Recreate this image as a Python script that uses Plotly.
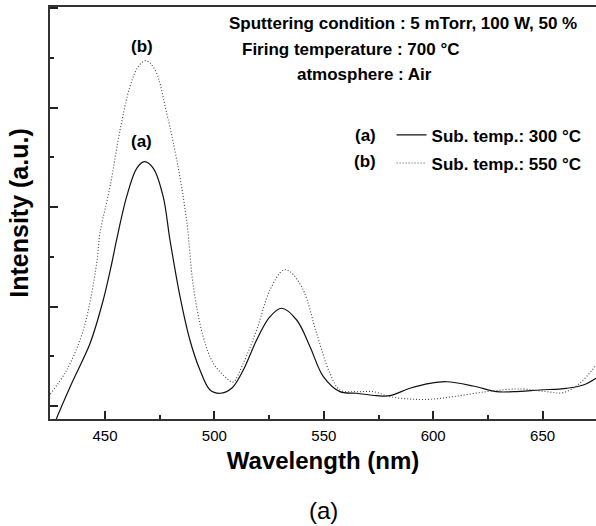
import plotly.graph_objects as go

# Wavelength (nm) and intensity (a.u.)
wl_a = [425.0, 427.9, 435.5, 443.2, 449.2, 453.1, 455.3, 459.9, 464.5, 468.0, 472.1, 476.6,
        479.7, 484.3, 488.8, 493.4, 498.0, 502.6, 507.9, 513.2, 519.3, 525.4, 530.7, 537.6,
        543.7, 549.8, 557.4, 565.0, 574.1, 580.2, 589.4, 598.5, 606.1, 618.3, 629.0, 636.6,
        648.8, 661.0, 668.6, 674.4]
int_a = [-0.30, -0.124, 0.262, 0.631, 1.066, 1.436, 1.670, 2.106, 2.391, 2.458, 2.391, 2.106,
         1.670, 1.100, 0.664, 0.362, 0.161, 0.128, 0.178, 0.362, 0.664, 0.898, 0.983, 0.865,
         0.597, 0.295, 0.144, 0.128, 0.104, 0.104, 0.178, 0.228, 0.244, 0.201, 0.144, 0.144,
         0.161, 0.178, 0.211, 0.279]

wl_b = [425.0, 432.5, 440.1, 446.2, 447.7, 452.3, 456.9, 461.4, 465.2, 468.7, 472.9, 478.2,
        482.8, 487.3, 490.4, 494.9, 499.5, 505.6, 508.5, 513.2, 519.3, 525.4, 531.5, 534.6,
        540.6, 546.7, 552.8, 557.4, 565.0, 572.6, 580.2, 589.4, 598.5, 609.2, 624.4, 639.6,
        651.8, 659.4, 667.0, 674.4]
int_b = [0.12, 0.362, 0.765, 1.436, 1.737, 2.206, 2.777, 3.212, 3.414, 3.474, 3.380, 2.945,
         2.475, 1.871, 1.200, 0.697, 0.430, 0.279, 0.241, 0.430, 0.765, 1.167, 1.368, 1.351,
         1.167, 0.731, 0.329, 0.161, 0.144, 0.144, 0.094, 0.070, 0.067, 0.094, 0.144, 0.171,
         0.144, 0.134, 0.228, 0.412]

names = ["Sub. temp.: 300 °C", "Sub. temp.: 550 °C"]
x_ticks = [450, 500, 550, 600, 650]

FONT = "Liberation Sans, Arial, sans-serif"

fig = go.Figure()
fig.add_trace(go.Scatter(x=wl_a, y=int_a, mode="lines", name=names[0], legendgroup="a",
                         line=dict(color="#111111", width=1.2, shape="spline", smoothing=1.0)))
fig.add_trace(go.Scatter(x=wl_b, y=int_b, mode="lines", name=names[1], legendgroup="b",
                         line=dict(color="#444444", width=1.1, dash="1px,2px", shape="spline", smoothing=1.0)))

fig.update_layout(
    width=596, height=526,
    margin=dict(l=50, r=0, t=7, b=107),
    paper_bgcolor="white", plot_bgcolor="white",
    font=dict(family=FONT, color="black"),
    showlegend=True,
    legend=dict(x=0.6256, y=0.732, xanchor="left", yanchor="top",
                bgcolor="rgba(0,0,0,0)", borderwidth=0,
                font=dict(size=17, family=FONT, color="black", weight="bold"),
                tracegroupgap=3),
    xaxis=dict(range=[424.87, 674.4], tickvals=x_ticks, ticktext=[str(v) for v in x_ticks],
               ticks="inside", ticklen=8, tickwidth=2, tickcolor="#222",
               minor=dict(dtick=25, tick0=425, ticks="inside", ticklen=4, tickwidth=2, tickcolor="#222"),
               showline=True, linewidth=2, linecolor="#333", mirror=True,
               showgrid=False, zeroline=False, ticklabelstandoff=2,
               tickfont=dict(size=15, family=FONT, color="black"),
               title=dict(text="Wavelength (nm)", standoff=9,
                          font=dict(size=24, family=FONT, color="black", weight="bold"))),
    yaxis=dict(range=[-0.131, 4.014], dtick=1, tick0=0, showticklabels=False,
               ticks="inside", ticklen=8, tickwidth=2, tickcolor="#222",
               minor=dict(dtick=0.5, tick0=0.5, ticks="inside", ticklen=4, tickwidth=2, tickcolor="#222"),
               showline=True, linewidth=2, linecolor="#333", mirror=False,
               showgrid=False, zeroline=False,
               title=dict(text="Intensity (a.u.)", standoff=12,
                          font=dict(size=25, family=FONT, color="black", weight="bold"))),
)

bold = dict(size=17, family=FONT, color="black", weight="bold")
ann = [
    dict(x=466.9, y=3.62, xref="x", yref="y", text="(b)", showarrow=False, font=bold),
    dict(x=466.9, y=2.66, xref="x", yref="y", text="(a)", showarrow=False, font=bold),
    dict(x=0.324, y=0.961, xref="paper", yref="paper", xanchor="left", yanchor="middle",
         text="Sputtering condition : 5 mTorr, 100 W, 50 %", showarrow=False, font=bold),
    dict(x=0.348, y=0.896, xref="paper", yref="paper", xanchor="left", yanchor="middle",
         text="Firing temperature : 700 °C", showarrow=False, font=bold),
    dict(x=0.449, y=0.835, xref="paper", yref="paper", xanchor="left", yanchor="middle",
         text="atmosphere : Air", showarrow=False, font=bold),
    dict(x=0.577, y=0.689, xref="paper", yref="paper", xanchor="center", yanchor="middle",
         text="(a)", showarrow=False, font=bold),
    dict(x=0.577, y=0.624, xref="paper", yref="paper", xanchor="center", yanchor="middle",
         text="(b)", showarrow=False, font=bold),
    dict(x=0.5, y=-0.223, xref="paper", yref="paper", xanchor="center", yanchor="middle",
         text="(a)", showarrow=False, font=dict(size=24, family=FONT, color="black")),
]
fig.update_layout(annotations=ann)

fig.write_html("out.html", config={"displayModeBar": False},
               post_script="document.body.style.margin='0';document.body.style.overflow='hidden';")
